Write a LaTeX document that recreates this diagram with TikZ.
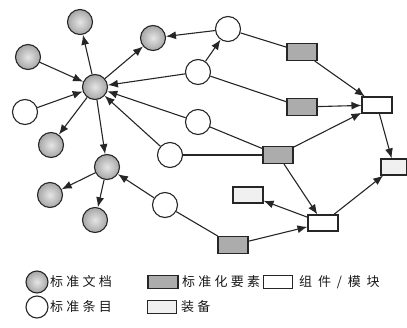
\documentclass[tikz,border=0pt]{standalone}
\usepackage{fontspec}
\newfontfamily\cjk[LetterSpace=25]{Noto Sans CJK SC}
\newfontfamily\cjkwide[LetterSpace=45]{Noto Sans CJK SC}
\usetikzlibrary{arrows.meta}
\begin{document}
\begin{tikzpicture}[x=1pt,y=-1pt,
 doc/.style={circle,draw=black!85,line width=1.1pt,minimum size=25pt,inner sep=0pt,shading=radial,inner color=gray!20,outer color=gray!70},
 item/.style={circle,draw=black!85,line width=1.1pt,minimum size=25pt,inner sep=0pt,fill=white},
 elem/.style={rectangle,draw=black!85,line width=1.1pt,minimum width=30pt,minimum height=17pt,inner sep=0pt,fill=gray!65},
 comp/.style={rectangle,draw=black!85,line width=1.1pt,minimum width=30pt,minimum height=16pt,inner sep=0pt,fill=white},
 equip/.style={rectangle,draw=black!85,line width=1.1pt,minimum width=30pt,minimum height=16pt,inner sep=0pt,fill=gray!12},
 arr/.style={-{Latex[length=10pt,width=8pt]},line width=1.1pt,draw=black!85},
 ln/.style={line width=1.1pt,draw=black!85},
 lab/.style={anchor=west,inner sep=0pt,font=\cjk\fontsize{13}{13}\selectfont,text=black!90}]
\useasboundingbox (0,0) rectangle (407,327);
% standard documents
\node[doc] (d0) at (95,87) {};
\node[doc] (d1) at (80,22) {};
\node[doc] (d2) at (153,38) {};
\node[doc] (d3) at (28,57) {};
\node[doc] (d4) at (51,145) {};
\node[doc] (d5) at (107,167) {};
\node[doc] (d6) at (50,195) {};
\node[doc] (d7) at (95,220) {};
% standard items
\node[item] (i1) at (25,112) {};
\node[item] (i2) at (228,29) {};
\node[item] (i3) at (198,72) {};
\node[item] (i4) at (198,122) {};
\node[item] (i5) at (170,155) {};
\node[item] (i6) at (165,205) {};
% standardization elements
\node[elem] (e1) at (302,52) {};
\node[elem] (e2) at (302,107) {};
\node[elem] (e3) at (278,155) {};
\node[elem] (e4) at (233,245) {};
% components / modules
\node[comp] (c1) at (377,105) {};
\node[comp] (c2) at (323,223) {};
% equipment
\node[equip,minimum width=26pt] (q1) at (394,167) {};
\node[equip] (q2) at (248,195) {};
% arrows
\draw[arr] (d0) -- (d1);
\draw[arr] (d0) -- (d2);
\draw[arr] (d3) -- (d0);
\draw[arr] (i1) -- (d0);
\draw[arr] (d0) -- (d4);
\draw[arr] (d0) -- (d5);
\draw[arr] (i3) -- (d0);
\draw[arr] (i4) -- (d0);
\draw[arr] (i5) -- (d0);
\draw[arr] (i2) -- (d2);
\draw[arr] (i3) -- (i2);
\draw[arr] (d5) -- (d6);
\draw[arr] (d5) -- (d7);
\draw[arr] (i6) -- (d5);
\draw[arr] (e1) -- (c1);
\draw[arr] (e2) -- (c1);
\draw[arr] (e3) -- (c1);
\draw[arr] (e3) -- (c2);
\draw[arr] (c1) -- (q1);
\draw[arr] (c2) -- (q1);
\draw[arr] (c2) -- (q2);
\draw[arr] (e4) -- (c2);
% plain lines
\draw[ln] (i2) -- (e1);
\draw[ln] (i3) -- (e2);
\draw[ln] (i4) -- (e3);
\draw[ln] (i5) -- (e3);
\draw[ln] (i6) -- (e4);
% legend
\node[doc,minimum size=22pt] (l1) at (37,282) {};
\node[lab] (t1) at (50,282) {标准文档};
\node[elem,minimum width=30pt,minimum height=13pt] (l2) at (163,282) {};
\node[lab] (t2) at (182,282) {标准化要素};
\node[comp,minimum width=29pt,minimum height=13pt] (l3) at (278,282) {};
\node[lab,font=\cjkwide\fontsize{13}{13}\selectfont] (t3) at (299,282) {组件/模块};
\node[item,minimum size=22pt] (l4) at (37,307) {};
\node[lab] (t4) at (50,307) {标准条目};
\node[equip,minimum width=29pt,minimum height=13pt] (l5) at (162,307) {};
\node[lab] (t5) at (181,307) {装备};
\end{tikzpicture}
\end{document}
